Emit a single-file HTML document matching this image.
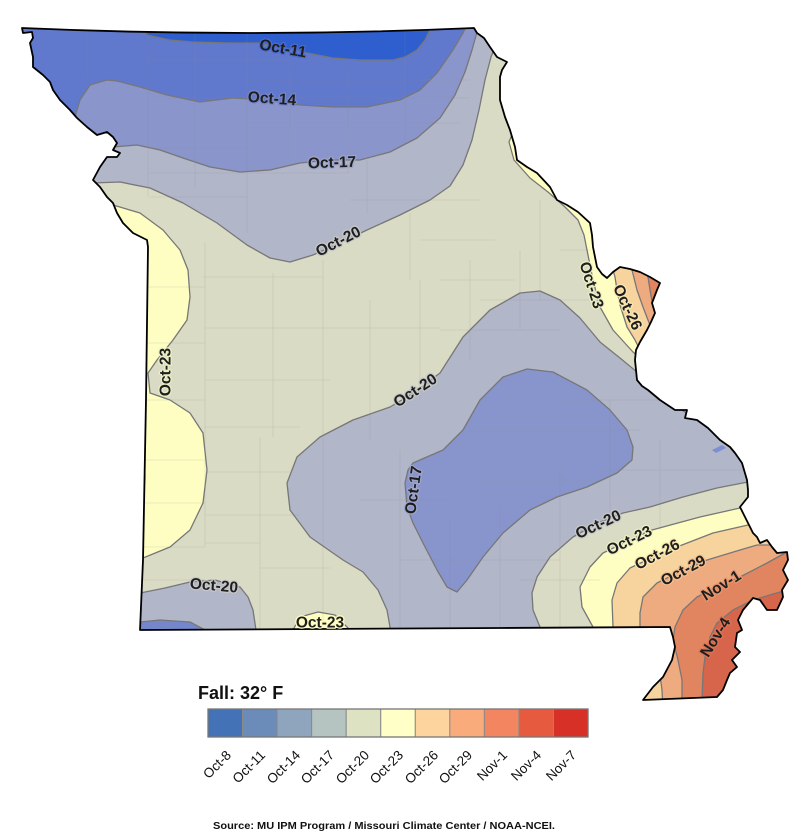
<!DOCTYPE html>
<html><head><meta charset="utf-8"><style>
html,body{margin:0;padding:0;background:#fff;}
svg{display:block;}
.lb{font-family:"Liberation Sans",Arial,sans-serif;font-weight:bold;font-size:15.5px;fill:#1e1e1e;stroke-width:2.5;paint-order:stroke;stroke-linejoin:round;}
.tk{font-family:"Liberation Sans",Arial,sans-serif;font-size:13.5px;fill:#111;}
</style></head><body>
<svg width="800" height="839" viewBox="0 0 800 839" xmlns="http://www.w3.org/2000/svg">
<defs>
<clipPath id="mo"><path d="M22,28 Q250,38 474,28 L477,33 L484,38 L490,47 L497,57 L507,62 L502,70 L500,77 L500,100 L505,117 L510,130 L515,147 L517,160 L527,167 L537,173 L550,187 L557,200 L567,205 L578,212 L590,223 L592,235 L593,247 L597,267 L602,274 L607,278 L613,272 L620,267 L630,269 L640,272 L650,277 L660,283 L657,290 L652,303 L655,313 L651,322 L647,330 L640,342 L636,350 L635,360 L637,380 L642,386 L648,390 L660,400 L675,410 L687,410 L685,418 L697,420 L708,428 L720,440 L730,447 L735,453 L742,463 L747,480 L748,490 L748,497 L740,507 L745,517 L748,523 L753,533 L757,537 L760,543 L767,540 L772,547 L777,553 L787,552 L788,560 L783,570 L788,580 L782,590 L783,597 L777,610 L767,610 L760,600 L753,598 L743,610 L738,620 L742,630 L737,633 L735,647 L740,652 L732,660 L737,667 L730,673 L727,680 L723,690 L717,697 L643,700 L653,687 L663,677 L672,660 L675,647 L673,637 L670,627 L500,628 L140,630 L143,560 L146,400 L148,247 L147,240 L133,233 L123,223 L117,213 L113,203 L107,197 L100,187 L93,180 L100,167 L107,157 L117,157 L120,153 L113,150 L117,143 L113,137 L107,132 L97,135 L87,127 L77,118 L70,110 L60,100 L53,90 L50,82 L43,75 L33,67 L33,57 L30,43 L33,38 L32,32 L23,33 Z"/></clipPath>
</defs>
<rect width="800" height="839" fill="#fff"/>
<g clip-path="url(#mo)" stroke="#777" stroke-width="1.3" stroke-linejoin="round">
<rect x="0" y="0" width="800" height="720" fill="#dadbc5" stroke="none"/>
<path fill="#b1b6c9" d="M60,184 L93,183 L120,182 L150,188 L183,203 L217,223 L247,245 L270,258 L290,262 L313,255 L340,243 L367,230 L400,215 L430,200 L450,186 L463,165 L472,140 L479,110 L485,80 L491,57 L497,42 L505,30 L505,0 L0,0 L0,184 Z"/>
<path fill="#8a95cb" d="M90,148 L113,147 L137,145 L160,150 L183,158 L210,167 L240,172 L270,170 L300,163 L330,160 L360,160 L390,152 L417,138 L440,118 L455,95 L465,72 L472,50 L477,32 L480,20 L480,0 L0,0 L0,148 Z"/>
<path fill="#6079cd" d="M70,125 L75,117 L80,100 L90,85 L107,80 L117,81 L140,87 L167,95 L200,102 L233,98 L265,100 L300,105 L333,107 L367,107 L400,100 L420,90 L437,73 L453,50 L463,33 L467,24 L467,0 L0,0 L0,125 Z"/>
<path fill="#2f5fcf" d="M140,20 L147,35 L170,40 L193,42 L230,43 L260,43 L285,48 L307,53 L333,58 L360,60 L393,60 L405,57 L417,50 L425,40 L430,30 L432,20 L432,0 L140,0 Z"/>
<path fill="#fefec3" d="M100,200 L113,205 L140,213 L163,230 L180,250 L188,270 L190,297 L187,320 L173,340 L157,360 L148,373 L150,393 L170,400 L190,413 L203,433 L207,470 L203,503 L190,530 L170,547 L143,558 L120,565 L100,565 Z"/>
<ellipse cx="143" cy="478" rx="3" ry="10" fill="#f7d39e" stroke="none"/>
<path fill="#b1b6c9" d="M390,640 L390,627 L387,610 L378,590 L363,572 L343,560 L310,537 L290,510 L287,483 L297,457 L320,437 L353,420 L390,407 L415,392 L440,373 L463,337 L490,310 L520,293 L540,291 L560,300 L580,318 L600,342 L620,358 L637,372 L660,395 L675,406 L690,415 L800,415 L800,482 L748,482 L717,488 L683,497 L650,507 L623,513 L598,523 L573,537 L550,557 L537,577 L532,593 L533,610 L540,627 L543,640 Z"/>
<path fill="#8894cc" d="M413,463 L443,450 L463,430 L480,400 L503,377 L527,369 L553,372 L587,390 L610,410 L627,430 L633,447 L632,460 L617,473 L587,487 L557,497 L530,510 L503,533 L483,557 L467,580 L457,592 L447,587 L437,570 L423,543 L413,523 L407,507 L405,483 L408,470 Z"/>
<path fill="#b1b6c9" d="M130,593 L140,593 L165,588 L190,582 L215,580 L240,587 L248,597 L253,610 L256,630 L256,640 L130,640 Z"/>
<path fill="#7486cc" d="M130,622 L140,622 L160,620 L190,622 L205,630 L205,640 L130,640 Z"/>
<path fill="#fefec3" d="M290,640 L293,630 L300,617 L318,612 L335,615 L350,630 L352,640 Z"/>
<path fill="#fefec3" d="M800,508 L740,508 L700,517 L652,530 L630,540 L603,553 L590,567 L580,587 L582,607 L593,627 L595,640 L800,640 Z"/>
<path fill="#f7d39e" d="M800,525 L748,525 L713,533 L682,545 L657,555 L630,568 L617,583 L612,600 L613,627 L613,710 L800,710 Z"/>
<path fill="#eeab80" d="M800,545 L757,545 L740,550 L707,560 L683,570 L657,583 L643,597 L640,613 L640,627 L642,660 L660,675 L662,690 L663,710 L800,710 Z"/>
<path fill="#e0855f" d="M800,548 L787,552 L767,563 L740,577 L721,585 L697,597 L683,610 L675,627 L673,640 L678,660 L682,680 L682,710 L800,710 Z"/>
<path fill="#d6654b" d="M800,590 L780,592 L753,600 L733,610 L717,623 L710,637 L705,657 L703,673 L702,700 L702,710 L800,710 Z"/>
<path fill="#fefec3" d="M516,125 L509,142 L514,160 L530,178 L548,192 L565,207 L578,220 L584,235 L588,255 L593,280 L600,307 L613,330 L633,352 L645,362 L700,362 L700,100 L530,100 Z"/>
<path fill="#f7d39e" d="M610,260 L615,277 L617,290 L620,305 L627,327 L635,340 L640,350 L700,350 L700,260 Z"/>
<path fill="#eeab80" d="M628,262 L632,270 L637,290 L643,307 L648,320 L652,330 L700,330 L700,262 Z"/>
<path fill="#e0855f" d="M645,268 L648,277 L650,290 L653,307 L656,315 L700,315 L700,268 Z"/>
<polygon points="712,450 722,445 726,448 716,453" fill="#7d8fd0" stroke="none"/>
<g stroke="#8d8d86" stroke-width="0.8" opacity="0.22" fill="none">
<path d="M87,30 V78 M148,30 V197 M195,30 V187 M247,30 V233 M290,60 V160 M348,65 V173 M405,30 V143 M367,160 V213 M410,213 V280"/>
<path d="M148,60 H290 M247,80 H470 M148,98 H470 M247,123 H460 M148,148 H247 M150,173 H350 M150,197 H247 M350,200 H480 M420,240 H495 M440,280 H515"/>
<path d="M205,243 V547 M273,273 V437 M260,437 V630 M323,260 V630 M203,277 H323 M205,328 H440 M205,380 H330 M205,427 H300 M205,472 H290 M205,515 H300 M205,543 H260 M260,568 H330 M143,287 H205 M143,343 H205 M143,400 H205 M143,460 H205 M143,503 H205 M143,547 H205 M143,580 H205"/>
<path d="M370,300 V440 M420,280 V400 M470,260 V360 M520,250 V330 M440,330 H560 M470,430 H640 M480,480 H600 M450,520 V630 M500,500 V628 M560,470 V628 M610,400 V520 M660,440 V530 M400,450 V628 M360,500 H450 M400,560 H560 M560,400 H700 M600,470 H748 M520,580 H600 M540,200 V300 M480,300 H600 M560,250 H590"/>
</g>
</g>
<path fill="none" stroke="#000" stroke-width="1.8" stroke-linejoin="round" d="M22,28 Q250,38 474,28 L477,33 L484,38 L490,47 L497,57 L507,62 L502,70 L500,77 L500,100 L505,117 L510,130 L515,147 L517,160 L527,167 L537,173 L550,187 L557,200 L567,205 L578,212 L590,223 L592,235 L593,247 L597,267 L602,274 L607,278 L613,272 L620,267 L630,269 L640,272 L650,277 L660,283 L657,290 L652,303 L655,313 L651,322 L647,330 L640,342 L636,350 L635,360 L637,380 L642,386 L648,390 L660,400 L675,410 L687,410 L685,418 L697,420 L708,428 L720,440 L730,447 L735,453 L742,463 L747,480 L748,490 L748,497 L740,507 L745,517 L748,523 L753,533 L757,537 L760,543 L767,540 L772,547 L777,553 L787,552 L788,560 L783,570 L788,580 L782,590 L783,597 L777,610 L767,610 L760,600 L753,598 L743,610 L738,620 L742,630 L737,633 L735,647 L740,652 L732,660 L737,667 L730,673 L727,680 L723,690 L717,697 L643,700 L653,687 L663,677 L672,660 L675,647 L673,637 L670,627 L500,628 L140,630 L143,560 L146,400 L148,247 L147,240 L133,233 L123,223 L117,213 L113,203 L107,197 L100,187 L93,180 L100,167 L107,157 L117,157 L120,153 L113,150 L117,143 L113,137 L107,132 L97,135 L87,127 L77,118 L70,110 L60,100 L53,90 L50,82 L43,75 L33,67 L33,57 L30,43 L33,38 L32,32 L23,33 Z"/>
<g text-anchor="middle">
<text class="lb" stroke="#4a6ccf" transform="translate(283,48) rotate(10)" dy="5.5">Oct-11</text>
<text class="lb" stroke="#7586cc" transform="translate(272,98) rotate(4)" dy="5.5">Oct-14</text>
<text class="lb" stroke="#9ea5ca" transform="translate(332,162) rotate(-2)" dy="5.5">Oct-17</text>
<text class="lb" stroke="#c6c8c7" transform="translate(338,241) rotate(-27)" dy="5.5">Oct-20</text>
<text class="lb" stroke="#eceec4" transform="translate(165,372) rotate(-90)" dy="5.5">Oct-23</text>
<text class="lb" stroke="#eceec4" transform="translate(592,285) rotate(72)" dy="5.5">Oct-23</text>
<text class="lb" stroke="#fae6b0" transform="translate(628,307) rotate(65)" dy="5.5">Oct-26</text>
<text class="lb" stroke="#c6c8c7" transform="translate(415,390) rotate(-33)" dy="5.5">Oct-20</text>
<text class="lb" stroke="#9ea5ca" transform="translate(413,490) rotate(-82)" dy="5.5">Oct-17</text>
<text class="lb" stroke="#c6c8c7" transform="translate(598,524) rotate(-25)" dy="5.5">Oct-20</text>
<text class="lb" stroke="#eceec4" transform="translate(629,540) rotate(-26)" dy="5.5">Oct-23</text>
<text class="lb" stroke="#fae6b0" transform="translate(657,554) rotate(-28)" dy="5.5">Oct-26</text>
<text class="lb" stroke="#f2bf8f" transform="translate(683,570) rotate(-28)" dy="5.5">Oct-29</text>
<text class="lb" stroke="#e7976f" transform="translate(721,585) rotate(-32)" dy="5.5">Nov-1</text>
<text class="lb" stroke="#db7555" transform="translate(715,637) rotate(-58)" dy="5.5">Nov-4</text>
<text class="lb" stroke="#c6c8c7" transform="translate(214,585) rotate(5)" dy="5.5">Oct-20</text>
<text class="lb" stroke="#fefec3" transform="translate(320,622) rotate(0)" dy="5.5">Oct-23</text>
</g>
<text x="198" y="699" font-family="Liberation Sans, Arial, sans-serif" font-weight="bold" font-size="18" fill="#111">Fall: 32° F</text>
<g stroke="#8a8a8a" stroke-width="1">
<rect x="208" y="709" width="34.55" height="28" fill="#4472b6"/>
<rect x="242.55" y="709" width="34.55" height="28" fill="#6b8bb8"/>
<rect x="277.1" y="709" width="34.55" height="28" fill="#8fa5bd"/>
<rect x="311.65" y="709" width="34.55" height="28" fill="#b5c4c1"/>
<rect x="346.2" y="709" width="34.55" height="28" fill="#dde2c3"/>
<rect x="380.75" y="709" width="34.55" height="28" fill="#ffffc7"/>
<rect x="415.3" y="709" width="34.55" height="28" fill="#fdd49e"/>
<rect x="449.85" y="709" width="34.55" height="28" fill="#f9ab7c"/>
<rect x="484.4" y="709" width="34.55" height="28" fill="#f38560"/>
<rect x="518.95" y="709" width="34.55" height="28" fill="#e65a3f"/>
<rect x="553.5" y="709" width="34.5" height="28" fill="#d73027"/>
</g>
<rect x="208" y="709" width="380" height="28" fill="none" stroke="#777" stroke-width="1.3"/>
<g class="tk" text-anchor="end">
<text transform="translate(232,756) rotate(-45)">Oct-8</text>
<text transform="translate(266,756) rotate(-45)">Oct-11</text>
<text transform="translate(301,756) rotate(-45)">Oct-14</text>
<text transform="translate(335,756) rotate(-45)">Oct-17</text>
<text transform="translate(370,756) rotate(-45)">Oct-20</text>
<text transform="translate(404,756) rotate(-45)">Oct-23</text>
<text transform="translate(439,756) rotate(-45)">Oct-26</text>
<text transform="translate(473,756) rotate(-45)">Oct-29</text>
<text transform="translate(508,756) rotate(-45)">Nov-1</text>
<text transform="translate(542,756) rotate(-45)">Nov-4</text>
<text transform="translate(577,756) rotate(-45)">Nov-7</text>
</g>
<text x="384" y="829" text-anchor="middle" font-family="Liberation Sans, Arial, sans-serif" font-weight="bold" font-size="10.5" fill="#111" textLength="342" lengthAdjust="spacingAndGlyphs">Source: MU IPM Program / Missouri Climate Center / NOAA-NCEI.</text>
</svg>
</body></html>
